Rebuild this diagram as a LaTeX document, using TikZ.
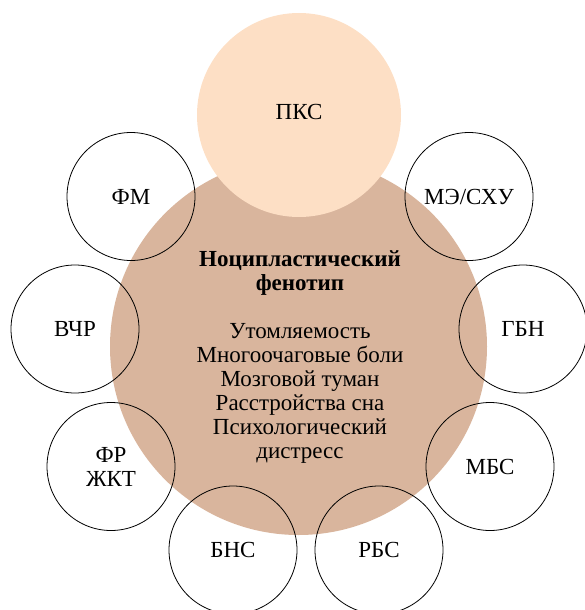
\documentclass[tikz,border=0pt]{standalone}
\usepackage{fontspec}
\setmainfont{Liberation Serif}
\usetikzlibrary{positioning}
\definecolor{peach}{RGB}{253,223,197}
\definecolor{phenotan}{RGB}{217,181,157}
\tikzset{
    hub/.style={
        circle, fill = phenotan,
        minimum size = 377pt,
        inner sep = 0pt
    },
    top/.style={
        circle, fill = peach,
        minimum size = 204pt,
        inner sep = 0pt,
        font = \fontsize{23}{24}\selectfont
    },
    satellite/.style={
        draw, circle, line width = 0.8pt,
        minimum size = 128pt,
        inner sep = 0pt,
        align = center,
        font = \fontsize{23}{24}\selectfont
    },
    every node/.style = {node distance=0.5cm}
}

\begin{document}
\begin{tikzpicture}[x=1pt, y=-1pt]

    % Frame
    \useasboundingbox (0,0) rectangle (584,610);

    % Phenotype circle
    \node[hub] (phenotype) at (298.5,346.5) {};

    % PKS on top
    \node[top] (pks) at (299,115) {\raisebox{6pt}{ПКС}};

    % Satellites
    \node[satellite] (fm)   at (131,196.5) {ФМ};
    \node[satellite] (me)   at (469,196.5) {МЭ/СХУ};
    \node[satellite] (vchr) at (75,329)    {ВЧР};
    \node[satellite] (gbn)  at (523,329)   {ГБН};
    \node[satellite] (fr)   at (111,466.5) {ФР\\ЖКТ};
    \node[satellite] (mbs)  at (490,466.5) {МБС};
    \node[satellite] (bns)  at (233,550)   {БНС};
    \node[satellite] (rbs)  at (379,550)   {РБС};

    % Labels
    \node[align=center, font=\fontsize{23}{24}\selectfont] (symptoms) at (300,357) {%
        \textbf{Ноципластический}\\\textbf{фенотип}\\[24pt]
        Утомляемость\\Многоочаговые боли\\Мозговой туман\\
        Расстройства сна\\Психологический\\дистресс};

\end{tikzpicture}
\end{document}
